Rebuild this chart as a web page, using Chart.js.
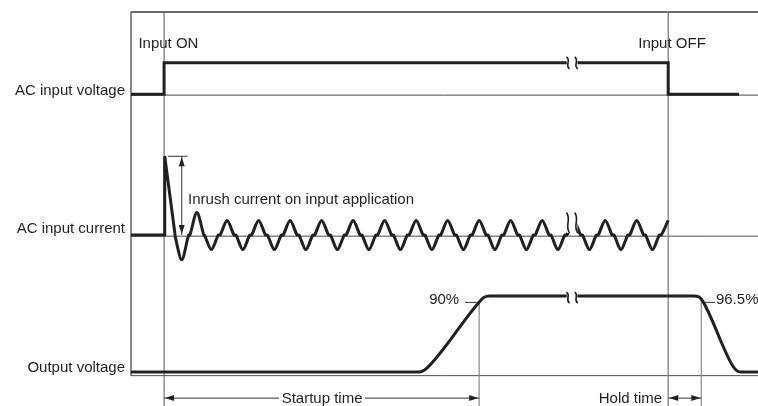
<!DOCTYPE html>
<html>
<head>
<meta charset="utf-8">
<title>Input ON / OFF timing</title>
<script src="https://cdn.jsdelivr.net/npm/chart.js@4/dist/chart.umd.min.js"></script>
<style>
  html, body { margin: 0; padding: 0; background: #fff; }
</style>
</head>
<body>
<canvas id="timing" width="758" height="406"></canvas>
<script>
// time axis in ms, Input ON = 0, Input OFF = 320
const voltT = [-21, 0, 0, 320, 320, 365];
const voltV = [0, 0, 1, 1, 0, 0]; // 0 = off, 1 = on

// inrush spike, in multiples of the normal current peak
const spikeT = [-21, 0, 0.4, 7.0];
const spikeV = [0, 0, 5.4, 0];

// current half-cycle peaks after the spike
const halfT = [11.2, 20.8, 30, 40, 50, 60, 70, 80, 90, 100, 110, 120, 130, 140, 150, 160,
  170, 180, 190, 200, 210, 220, 230, 240, 250, 260, 270, 280, 290, 300, 310, 320];
const halfA = [-1.7, 1.55, -1, 1, -1, 1, -1, 1, -1, 1, -1, 1, -1, 1, -1, 1,
  -1, 1, -1, 1, -1, 1, -1, 1, -1, 1, -1, 1, -1, 1, -1, 1];

// output voltage in %
const outT = [-21, 160, 163.5, 166.5, 200, 203, 206.5, 336, 339.5, 342, 361, 364, 367, 377];
const outV = [0, 0, 0.8, 4.5, 92, 98, 100, 100, 99, 93, 8, 1.2, 0, 0];

const rowLabels = ["AC input voltage", "AC input current", "Output voltage"];

// ── layout (y scale 0..100 over the whole canvas height)
const VOLT_ZERO = 79.1, VOLT_GAIN = 8.0;
const CUR_ZERO = 43.4, CUR_GAIN = 3.7;
const OUT_ZERO = 8.6, OUT_GAIN = 0.193;
const GRID_Y = [78.9, 43.1, 7.7];
const LABEL_Y = [78.9, 43.9, 8.6];
const BREAK_T = 259;
const HALF_W = 4.4;
const INK = "#231f20";
const FONT = '15px "Liberation Sans", Arial, sans-serif';

const wave = [];
halfT.forEach((t, i) => {
  wave.push({ x: t - HALF_W, y: CUR_ZERO });
  wave.push({ x: t, y: CUR_ZERO + halfA[i] * CUR_GAIN });
  if (i < halfT.length - 1) wave.push({ x: t + HALF_W, y: CUR_ZERO });
});

const sig = (data, extra) =>
  Object.assign(
    {
      data,
      showLine: true,
      pointRadius: 0,
      borderColor: INK,
      borderWidth: 3,
      borderJoinStyle: "miter",
      fill: false,
      clip: false,
    },
    extra || {},
  );

function line(ctx, x1, y1, x2, y2, color, w) {
  ctx.strokeStyle = color;
  ctx.lineWidth = w;
  ctx.beginPath();
  ctx.moveTo(x1, y1);
  ctx.lineTo(x2, y2);
  ctx.stroke();
}

function head(ctx, px, py, dx, dy) {
  const L = 9, W = 3;
  ctx.fillStyle = INK;
  ctx.beginPath();
  ctx.moveTo(px, py);
  ctx.lineTo(px - dx * L - dy * W, py - dy * L + dx * W);
  ctx.lineTo(px - dx * L + dy * W, py - dy * L - dx * W);
  ctx.closePath();
  ctx.fill();
}

// frame, row baselines and event markers (under the signals)
const guides = {
  id: "guides",
  beforeDatasetsDraw(chart) {
    const { ctx, scales: { x, y } } = chart;
    const X = (v) => x.getPixelForValue(v);
    const Y = (v) => y.getPixelForValue(v);
    ctx.save();
    line(ctx, X(-21), Y(100), X(377), Y(100), "#3a3a3a", 1.3);
    line(ctx, X(-21), Y(100), X(-21), Y(GRID_Y[2]), "#3a3a3a", 1.2);
    GRID_Y.forEach((g) => line(ctx, X(-21), Y(g), X(377), Y(g), "#4a4a4a", 1));
    line(ctx, X(0), Y(100), X(0), Y(0), "#555", 1);
    line(ctx, X(320), Y(100), X(320), Y(0), "#888", 1.4);
    line(ctx, X(200), Y(26.9), X(200), Y(0), "#888", 1.2);
    line(ctx, X(341), Y(26.9), X(341), Y(0), "#888", 1.2);
    ctx.restore();
  },
};

// break marks, arrows and texts
const notes = {
  id: "notes",
  afterDatasetsDraw(chart) {
    const { ctx, scales: { x, y } } = chart;
    const X = (v) => x.getPixelForValue(v);
    const Y = (v) => y.getPixelForValue(v);
    ctx.save();

    // ── break marks
    const bx1 = X(BREAK_T - 3.4), bx2 = X(BREAK_T + 3.4);
    const rows = [
      { top: Y(VOLT_ZERO + VOLT_GAIN) - 6, bot: Y(VOLT_ZERO + VOLT_GAIN) + 6 },
      { top: Y(CUR_ZERO + CUR_GAIN) - 8, bot: Y(CUR_ZERO) - 2 },
      { top: Y(OUT_ZERO + 100 * OUT_GAIN) - 4, bot: Y(OUT_ZERO + 100 * OUT_GAIN) + 7 },
    ];
    rows.forEach((r) => {
      ctx.fillStyle = "#fff";
      ctx.fillRect(bx1, r.top, bx2 - bx1, r.bot - r.top);
      [X(BREAK_T - 2.6), X(BREAK_T + 2.6)].forEach((mx) => {
        const h = r.bot - r.top;
        ctx.strokeStyle = INK;
        ctx.lineWidth = 1.6;
        ctx.beginPath();
        ctx.moveTo(mx - 1.5, r.top);
        ctx.bezierCurveTo(mx + 3.5, r.top + h / 3, mx - 3.5, r.bot - h / 3, mx + 1.5, r.bot);
        ctx.stroke();
      });
    });

    // ── inrush dimension
    const spikeTop = Y(CUR_ZERO + spikeV[2] * CUR_GAIN);
    line(ctx, X(2.5), spikeTop, X(14.8), spikeTop, "#333", 1);
    line(ctx, X(11.2), spikeTop, X(11.2), Y(CUR_ZERO), "#333", 1);
    head(ctx, X(11.2), spikeTop + 1, 0, -1);
    head(ctx, X(11.2), Y(CUR_ZERO) - 1, 0, 1);

    // ── level leaders
    line(ctx, X(191), Y(26.3), X(199), Y(26.3), "#333", 1);
    line(ctx, X(343.3), Y(26.3), X(349.7), Y(26.3), "#333", 1);

    // ── startup / hold time
    const ay = Y(2.0);
    line(ctx, X(0), ay, X(73), ay, "#333", 1);
    line(ctx, X(127.6), ay, X(200), ay, "#333", 1);
    head(ctx, X(0) + 1, ay, -1, 0);
    head(ctx, X(200) - 1, ay, 1, 0);
    line(ctx, X(320), ay, X(341), ay, "#333", 1);
    head(ctx, X(320) + 1, ay, -1, 0);
    head(ctx, X(341) - 1, ay, 1, 0);

    // ── texts
    ctx.fillStyle = INK;
    ctx.font = FONT;
    ctx.textBaseline = "alphabetic";
    ctx.textAlign = "right";
    rowLabels.forEach((s, i) => ctx.fillText(s, X(-24.8), Y(LABEL_Y[i])));
    ctx.fillText("90%", X(187.3), Y(25.9));
    ctx.fillText("Hold time", X(316.1), Y(0.76));
    ctx.textAlign = "left";
    ctx.fillText("Input ON", X(-16.3), Y(90.9));
    ctx.fillText("Input OFF", X(301), Y(90.9));
    ctx.fillText("Inrush current on input application", X(15.2), Y(51.3));
    ctx.fillText("96.5%", X(350.3), Y(25.9));
    ctx.textAlign = "center";
    ctx.fillText("Startup time", X(100.3), Y(0.76));
    ctx.restore();
  },
};

new Chart(document.getElementById("timing"), {
  type: "scatter",
  data: {
    datasets: [
      sig(voltT.map((t, i) => ({ x: t, y: VOLT_ZERO + voltV[i] * VOLT_GAIN }))),
      sig(spikeT.map((t, i) => ({ x: t, y: CUR_ZERO + spikeV[i] * CUR_GAIN }))),
      sig(wave, { tension: 0.3, borderJoinStyle: "round" }),
      sig(outT.map((t, i) => ({ x: t, y: OUT_ZERO + outV[i] * OUT_GAIN })), {
        cubicInterpolationMode: "monotone",
        borderJoinStyle: "round",
      }),
    ],
  },
  options: {
    responsive: false,
    animation: false,
    events: [],
    layout: { padding: { left: 131, top: 12, right: 0, bottom: 0 } },
    plugins: { legend: { display: false }, tooltip: { enabled: false } },
    scales: {
      x: { type: "linear", display: false, min: -21, max: 377 },
      y: { type: "linear", display: false, min: 0, max: 100 },
    },
  },
  plugins: [guides, notes],
});
</script>
</body>
</html>
